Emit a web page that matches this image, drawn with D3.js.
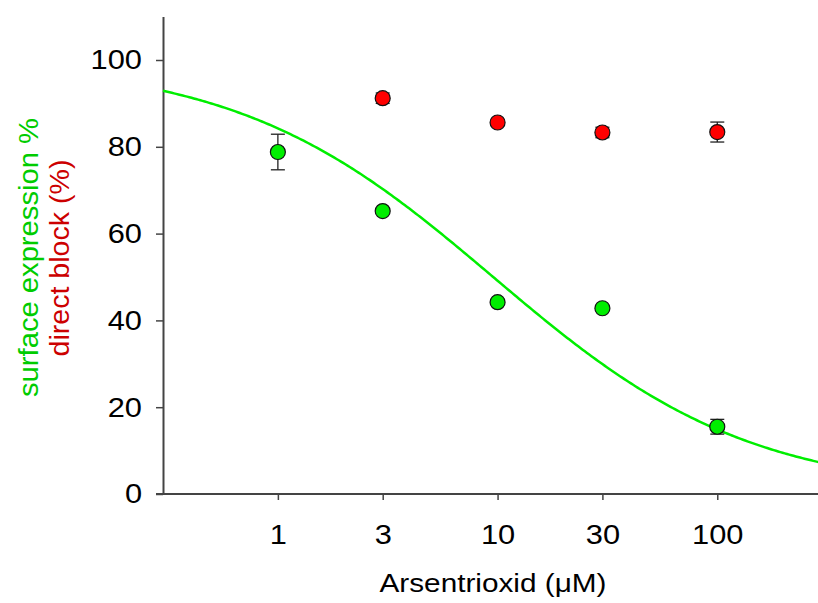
<!DOCTYPE html>
<html>
<head>
<meta charset="utf-8">
<script src="https://cdn.jsdelivr.net/npm/d3@7"></script>
<style>
  html, body { margin: 0; padding: 0; background: #fff; }
  svg text { font-family: "Liberation Sans", Arial, sans-serif; }
</style>
</head>
<body>
<svg id="chart" width="818" height="603"></svg>
<script>
// Arsenic trioxide concentrations (µM)
const concentrations = [1, 3, 10, 30, 100];

// Surface expression (%) with SEM
const surfaceConc = [1, 3, 10, 30, 100];
const surfaceMean = [78.8, 65.2, 44.2, 42.8, 15.5];
const surfaceErr  = [4.1, 0, 0, 0, 1.7];

// Direct block (%) with SEM
const blockConc = [3, 10, 30, 100];
const blockMean = [91.2, 85.6, 83.3, 83.4];
const blockErr  = [1.2, 0, 1.2, 2.3];

// Hill fit of surface expression
const fitTop = 100, fitIC50 = 9.55, fitHill = 0.743;

const xTickValues = [1, 3, 10, 30, 100];
const xTickLabels = ["1", "3", "10", "30", "100"];
const yTickValues = [0, 20, 40, 60, 80, 100];

const svg = d3.select("#chart");
const left = 163, bottom = 494;

const x = d3.scaleLog().domain([0.3, 300]).range([left, left + 3 * 219.7]);
const y = d3.scaleLinear().domain([0, 110]).range([bottom, bottom - 110 * 4.34]);

const axisColor = "#444";
const tickFont = 28;

// widen labels slightly (the lettering is set a little wide)
function widen(sel, factor) {
  sel.each(function () {
    const w = this.getComputedTextLength();
    d3.select(this).attr("textLength", w * factor).attr("lengthAdjust", "spacingAndGlyphs");
  });
}

// y axis
const yAxis = svg.append("g")
  .attr("transform", `translate(${left},0)`)
  .call(d3.axisLeft(y).tickValues(yTickValues).tickSize(7).tickPadding(14).tickSizeOuter(0));
yAxis.select(".domain").attr("stroke", axisColor).attr("stroke-width", 2);
yAxis.selectAll(".tick line").attr("stroke", axisColor).attr("stroke-width", 1.5);
yAxis.selectAll(".tick text").attr("font-size", tickFont).attr("fill", "#000")
  .attr("font-family", "Liberation Sans, Arial, sans-serif").call(widen, 1.1);

// x axis
const xAxis = svg.append("g")
  .attr("transform", `translate(0,${bottom})`)
  .call(d3.axisBottom(x).tickValues(xTickValues).tickFormat((d, i) => xTickLabels[i])
    .tickSize(6).tickPadding(24).tickSizeOuter(0));
xAxis.select(".domain").attr("stroke", axisColor).attr("stroke-width", 2)
  .attr("d", `M${left - 7},0H818`);
xAxis.selectAll(".tick line").attr("stroke", axisColor).attr("stroke-width", 1.5);
xAxis.selectAll(".tick text").attr("font-size", tickFont).attr("fill", "#000")
  .attr("font-family", "Liberation Sans, Arial, sans-serif").call(widen, 1.1);

// fitted curve
const fitX = d3.range(0, 301).map(i => 0.3 * Math.pow(1000, i / 300));
const curve = d3.line()
  .x(d => x(d))
  .y(d => y(fitTop / (1 + Math.pow(d / fitIC50, fitHill))));
svg.append("path")
  .datum(fitX)
  .attr("d", curve)
  .attr("fill", "none")
  .attr("stroke", "#00ee00")
  .attr("stroke-width", 2.5);

function drawSeries(conc, mean, err, fill) {
  const data = conc.map((c, i) => ({ c, m: mean[i], e: err[i] }));
  const g = svg.append("g");
  const bars = data.filter(d => d.e > 0);
  g.selectAll(".ev").data(bars).join("line")
    .attr("x1", d => x(d.c)).attr("x2", d => x(d.c))
    .attr("y1", d => y(d.m - d.e)).attr("y2", d => y(d.m + d.e))
    .attr("stroke", "#222").attr("stroke-width", 1.3);
  [1, -1].forEach(s => {
    g.selectAll(".cap" + s).data(bars).join("line")
      .attr("x1", d => x(d.c) - 7).attr("x2", d => x(d.c) + 7)
      .attr("y1", d => y(d.m + s * d.e)).attr("y2", d => y(d.m + s * d.e))
      .attr("stroke", "#222").attr("stroke-width", 1.3);
  });
  g.selectAll("circle").data(data).join("circle")
    .attr("cx", d => x(d.c)).attr("cy", d => y(d.m))
    .attr("r", 7.5)
    .attr("fill", fill)
    .attr("stroke", "#111").attr("stroke-width", 1.2);
}
drawSeries(blockConc, blockMean, blockErr, "#ff0000");
drawSeries(surfaceConc, surfaceMean, surfaceErr, "#00ee00");

// axis titles
svg.append("text")
  .attr("x", 493).attr("y", 592)
  .attr("text-anchor", "middle")
  .attr("font-size", 26)
  .attr("textLength", 227).attr("lengthAdjust", "spacingAndGlyphs")
  .text("Arsentrioxid (\u03BCM)");

svg.append("text")
  .attr("transform", "translate(38,257.5) rotate(-90)")
  .attr("text-anchor", "middle")
  .attr("font-size", 27)
  .attr("fill", "#00cc00")
  .attr("textLength", 279).attr("lengthAdjust", "spacingAndGlyphs")
  .text("surface expression %");

svg.append("text")
  .attr("transform", "translate(69,258) rotate(-90)")
  .attr("text-anchor", "middle")
  .attr("font-size", 27)
  .attr("fill", "#cc0000")
  .attr("textLength", 197).attr("lengthAdjust", "spacingAndGlyphs")
  .text("direct block (%)");
</script>
</body>
</html>
